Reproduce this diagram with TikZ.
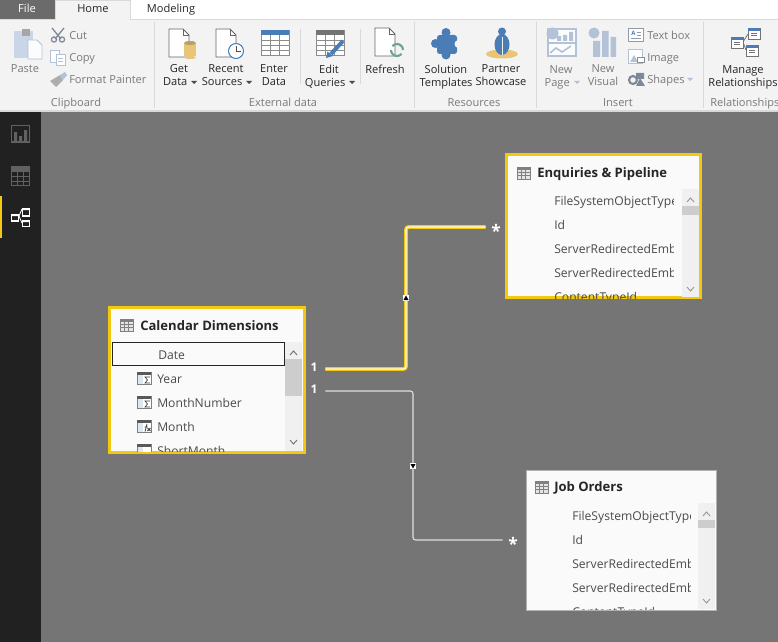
\documentclass[tikz,border=0pt]{standalone}
\usepackage{fontspec}
\setmainfont{Open Sans}
\usetikzlibrary{positioning}
\definecolor{pbiyellow}{HTML}{F2C811}
\definecolor{canvasgrey}{HTML}{757575}
\definecolor{sidedark}{HTML}{212121}
\definecolor{ribbongrey}{HTML}{F3F3F3}
\definecolor{ruleline}{HTML}{D9D9D9}
\definecolor{ribtext}{HTML}{262626}
\definecolor{offtext}{HTML}{7A7A7A}
\definecolor{rowtext}{HTML}{4A4A4A}
\definecolor{iconblue}{HTML}{4A7DB5}
\definecolor{icongrey}{HTML}{7F7F7F}
\definecolor{paleblue}{HTML}{B4C2D8}
\definecolor{paperblue}{HTML}{C9D6E8}
\definecolor{cylorange}{HTML}{EBC577}
\definecolor{refreshgreen}{HTML}{6FA58C}
\definecolor{trackgrey}{HTML}{F0F0F0}
\definecolor{thumbgrey}{HTML}{CDCDCD}
\tikzset{
  ribbtn/.style={font=\fontsize{8.3}{9.75}\selectfont, text=ribtext, align=center, inner sep=0pt},
  riboff/.style={ribbtn, text=offtext},
  ribgroup/.style={font=\fontsize{8.3}{9.75}\selectfont, text=offtext, inner sep=0pt, text height=7.2pt, text depth=1pt},
  ribleft/.style={riboff, anchor=west, text height=7.2pt, text depth=1pt},
  tabtext/.style={font=\fontsize{8.3}{10}\selectfont, text=ribtext, inner sep=0pt, text height=7.2pt, text depth=1pt},
  card/.style={draw=#1, fill=white!98!black, anchor=north west},
  cardtitle/.style={font=\bfseries\fontsize{9.8}{11}\selectfont, text=black!85, anchor=west, inner sep=0pt,
    text height=8pt, text depth=1pt},
  rowlabel/.style={font=\fontsize{9.1}{11}\selectfont, text=rowtext, anchor=west, inner sep=0pt,
    text height=7.4pt, text depth=1pt},
  cardlab/.style={font=\bfseries\fontsize{9}{10}\selectfont, text=white, inner sep=0pt, minimum height=9pt},
  relactive/.style={draw=pbiyellow, line width=1pt, double=white, double distance=.9pt, rounded corners=2pt},
  relplain/.style={draw=white!88!black, line width=.8pt, rounded corners=2pt},
  crossmark/.style={fill=white, inner sep=0pt, minimum size=5.2pt},
}
% small grey table mark
\newcommand{\tablemark}[3]{%
  \draw[#3, line width=.6pt, fill=white!90!black] (#1,#2) rectangle ++(13,12);
  \fill[#3] (#1,#2) rectangle ++(13,2.5);
  \draw[#3, line width=.4pt] (#1,#2+5.5) -- ++(13,0) (#1,#2+8.7) -- ++(13,0)
    (#1+4.3,#2) -- ++(0,12) (#1+8.7,#2) -- ++(0,12);
}
% column mark
\newcommand{\colmark}[2]{%
  \draw[icongrey, line width=.5pt, fill=paperblue!60] (#1,#2) rectangle ++(14,12);
  \fill[black!65] (#1,#2) rectangle ++(14,2.6);
  \fill[white] (#1+6,#2+3) rectangle ++(8,9);
}
% sigma and fx strokes for the column mark
\newcommand{\sigmamark}[2]{\draw[black!75, line width=.5pt] (#1+13,#2+5) -- (#1+8,#2+5) -- (#1+10.5,#2+8) -- (#1+8,#2+11) -- (#1+13,#2+11);}
\newcommand{\fxmark}[2]{\draw[black!75, line width=.6pt] (#1+10,#2+4) -- (#1+8,#2+11.5) (#1+7.5,#2+7) -- (#1+10.5,#2+7) (#1+10.5,#2+8) -- (#1+13.5,#2+11) (#1+13.5,#2+8) -- (#1+10.5,#2+11);}
% drop arrow
\newcommand{\dropmark}[3]{\fill[#3] (#1,#2) -- ++(6,0) -- ++(-3,3) -- cycle;}
% page with folded corner
\newcommand{\pagemark}[2]{%
  \draw[black!60, line width=.7pt, fill=white] (#1,#2) -- ++(14,0) -- ++(6,6) -- ++(0,22) -- ++(-20,0) -- cycle;
  \draw[black!60, line width=.7pt] (#1+14,#2) -- ++(0,6) -- ++(6,0);
}
% tiny relationship table
\newcommand{\reltab}[2]{%
  \draw[black!55, line width=.6pt, fill=white] (#1,#2) rectangle ++(12,11);
  \fill[iconblue] (#1,#2) rectangle ++(12,2.6);
  \draw[black!55, line width=.4pt] (#1+3,#2+5) -- ++(6,0) (#1+3,#2+7.5) -- ++(6,0);
}
\begin{document}
\begin{tikzpicture}[x=0.75pt, y=-0.75pt]
      \clip (0,0) rectangle (778,642);
      %
      \fill[canvasgrey] (0,0) rectangle (778,642);
      \fill[sidedark] (0,112) rectangle (41,642);              % side bar
      \fill[ribbongrey] (0,20) rectangle (778,110);            % ribbon
      \fill[ruleline] (0,110) rectangle (778,112);
      \fill[white] (0,0) rectangle (778,19);                   % tab row
      \fill[ruleline] (0,19) rectangle (778,20);
      \fill[black!58] (0,0) rectangle (55,19);                 % file tab
      \fill[ribbongrey] (55.5,0) rectangle (130,20);           % home tab
      \draw[ruleline, line width=.6pt] (55.5,19) -- (55.5,0) -- (130,0) -- (130,19);
      \node[tabtext, text=white] (filetab) at (27,8) {File};
      \node[tabtext] (hometab) at (93,8) {Home};
      \node[tabtext] (modeltab) at (171,8) {Modeling};
      %% clipboard group
      \fill[paperblue] (14,31) rectangle (33,58);
      \fill[black!35] (22,29) rectangle (30,36);
      \draw[paleblue, line width=.6pt, fill=white!92!paperblue] (28,40) -- (37,40) -- (42,45) -- (42,59) -- (28,59) -- cycle;
      \node[riboff] (paste) at (25,69) {Paste};
      \draw[paleblue!70!black, line width=1pt] (52,28) -- (61,39) (64,28) -- (55,39);
      \draw[paleblue!70!black, line width=.9pt] (54,39.5) circle (2.6) (62,39.5) circle (2.6);
      \draw[paleblue, line width=.7pt, fill=white] (50.5,50) rectangle (59,62);
      \draw[paleblue, line width=.7pt, fill=white] (56,54) rectangle (65,65);
      \draw[paleblue, line width=.7pt] (58,58) -- (63,58) (58,61) -- (63,61);
      \fill[black!32] (50,81) -- (60,75) -- (63,80) -- (56,87) -- cycle;
      \fill[paleblue] (60,75) -- (65,72) -- (67,75) -- (63,80) -- cycle;
      \node[ribleft] (cut) at (69,35) {Cut};
      \node[ribleft] (copy) at (69,57) {Copy};
      \node[ribleft] (painter) at (69,79) {Format Painter};
      \node[ribgroup] (clipboard) at (76,102) {Clipboard};
      \draw[ruleline, line width=.7pt] (154.5,22) -- (154.5,108);
      %% external data group
      \pagemark{169}{29}
      \fill[cylorange] (184,43) rectangle (196,56);
      \fill[cylorange] (190,57.5) ellipse (6 and 1.5);
      \fill[cylorange!80!black] (190,43) ellipse (6 and 2);
      \node[ribbtn] (getdata) at (179,75.5) {Get\\Data\phantom{\,x}};
      \dropmark{191}{81}{black!70}
      \pagemark{216}{29}
      \draw[iconblue, line width=.8pt, fill=white] (236,51) circle (7.5);
      \draw[black!70, line width=.6pt] (236,46) -- (236,51.5) -- (241,51.5);
      \node[ribbtn] (recent) at (226,75.5) {Recent\\Sources\phantom{\,x}};
      \dropmark{246}{81}{black!70}
      \draw[black!45, line width=.6pt, fill=white] (261,30) rectangle (289,55);
      \fill[iconblue] (261,30) rectangle (289,35);
      \draw[black!45, line width=.5pt] (261,40) -- (289,40) (261,45) -- (289,45) (261,50) -- (289,50)
        (270.3,35) -- (270.3,55) (279.6,35) -- (279.6,55);
      \node[ribbtn] (enter) at (274,75.5) {Enter\\Data};
      \draw[ruleline, line width=.7pt] (300.5,29) -- (300.5,84);
      \draw[black!45, line width=.6pt, fill=white] (316,30) rectangle (344,55);
      \fill[black!55] (316,30) rectangle (344,35);
      \draw[iconblue, line width=.6pt] (325,30.5) -- (325,35) (335,30.5) -- (335,35);
      \draw[black!45, line width=.5pt] (316,40) -- (344,40) (316,45) -- (344,45) (316,50) -- (344,50)
        (325.3,35) -- (325.3,55) (334.6,35) -- (334.6,55);
      \draw[iconblue, line width=3pt] (331,54) -- (343,41);
      \fill[iconblue] (326,58) -- (327.5,51.5) -- (333,56) -- cycle;
      \node[ribbtn] (queries) at (329,76.5) {Edit\\Queries\phantom{\,x}};
      \dropmark{349}{81}{black!70}
      \draw[ruleline, line width=.7pt] (360.5,29) -- (360.5,84);
      \pagemark{375}{28}
      \draw[refreshgreen, line width=1.6pt] (391,50) arc (180:40:6) (403,50) arc (0:-140:6);
      \node[ribbtn] (refresh) at (385,69) {Refresh};
      \node[ribgroup] (external) at (283,102) {External data};
      \draw[ruleline, line width=.7pt] (414.5,22) -- (414.5,108);
      %% resources group
      \fill[iconblue, rounded corners=2pt] (437,35) rectangle (457,54);
      \fill[iconblue] (446,32.5) circle (4.5) (446,55) circle (4.5) (435.5,43.5) circle (4.5);
      \fill[ribbongrey] (458.5,44) circle (4);
      \node[ribbtn] (solution) at (446,77) {Solution\\Templates};
      \fill[cylorange] (502,54) ellipse (16 and 4.5);
      \fill[iconblue] (502,44.5) ellipse (7.5 and 10.5);
      \fill[iconblue] (502,31.5) circle (4);
      \draw[ribbongrey, line width=.5pt] (502,37) -- (502,55);
      \node[ribbtn] (partner) at (501,75.5) {Partner\\Showcase};
      \node[ribgroup] (resources) at (474,102) {Resources};
      \draw[ruleline, line width=.7pt] (536.5,22) -- (536.5,108);
      %% insert group
      \draw[paleblue, line width=.8pt, fill=white!95!paleblue] (548,29) rectangle (576,56);
      \draw[paleblue, line width=.8pt] (548,43) -- (576,43);
      \fill[paleblue] (557,36) rectangle (561,41) (563,35) rectangle (567,41) (569,32) rectangle (573,41);
      \draw[paleblue, line width=1.2pt] (550,53) -- (556,48) -- (562,52) -- (571,46);
      \fill[paleblue] (552.5,33.5) circle (6);
      \node[riboff] (newpage) at (561,77) {New\\Page\phantom{\,x}};
      \dropmark{574}{81}{paleblue}
      \fill[paleblue] (593,41) rectangle (600,57) (602,31) rectangle (608.5,57) (610.5,37) rectangle (616,57);
      \fill[paleblue] (594,33) circle (5.5);
      \node[riboff] (newvisual) at (603,75.5) {New\\Visual};
      \draw[paleblue!80!black, line width=.7pt, fill=white] (628.5,28.5) rectangle (643,41);
      \draw[paleblue!80!black, line width=.6pt] (637,32) -- (641,32) (637,35) -- (641,35) (631,38) -- (641,38);
      \node[riboff, font=\bfseries\fontsize{4.5}{5}\selectfont, text=iconblue] (textboxa) at (633.5,33.5) {A};
      \draw[paleblue, line width=.7pt, fill=white] (628.5,49) rectangle (642,63);
      \fill[paleblue] (630,62) -- (634,55) -- (638,62) -- cycle;
      \draw[black!45, line width=.7pt, fill=white] (637,57) rectangle (644,62);
      \draw[paleblue!70!black, line width=1.6pt] (633,80) circle (4);
      \fill[paleblue!70!black] (636,73) rectangle (644,79) (636,86) -- (640,78) -- (645,86) -- cycle;
      \node[ribleft] (textbox) at (647,35) {Text box};
      \node[ribleft] (image) at (647,57) {Image};
      \node[ribleft] (shapes) at (647,79) {Shapes};
      \dropmark{687}{78}{paleblue}
      \node[ribgroup] (insert) at (618,102) {Insert};
      \draw[ruleline, line width=.7pt] (703.5,22) -- (703.5,108);
      %% relationships group
      \draw[black!55, line width=.6pt] (743,42) -- (748,34) (743,42) -- (746,50);
      \reltab{731}{37}
      \reltab{748}{28}
      \reltab{746}{45}
      \node[ribbtn] (manage) at (743,77) {Manage\\Relationships};
      \node[ribgroup, anchor=west] (relations) at (710,102) {Relationships};
      %% side bar
      \draw[black!62, line width=.8pt] (11.5,125.5) rectangle (29.5,142);
      \fill[black!62] (14,132) rectangle (17,141) (19,136) rectangle (22,141) (24,130) rectangle (27,141);
      \draw[black!62, line width=.8pt] (11.5,166.5) rectangle (29.5,185.5);
      \fill[black!62] (11.5,166.5) rectangle (29.5,171.5);
      \draw[black!62, line width=.7pt] (11.5,176) -- (29.5,176) (11.5,181) -- (29.5,181)
        (17.5,171) -- (17.5,185.5) (23.5,171) -- (23.5,185.5);
      \fill[pbiyellow] (0,196) rectangle (2,238);
      \draw[white, line width=.6pt] (19,216) -- (22,209) (19,216) -- (22,223);
      \draw[white, line width=.9pt, fill=sidedark] (11.5,215) rectangle (18.5,221);
      \draw[white, line width=.9pt, fill=sidedark] (22.5,209) rectangle (29.5,216);
      \draw[white, line width=.9pt, fill=sidedark] (22.5,220.5) rectangle (29.5,226.5);
      \fill[white] (11.5,214) rectangle (18.5,216) (22.5,208) rectangle (29.5,210) (22.5,220) rectangle (29.5,222);
      %% connector ends and direction marks
      \node[cardlab, minimum width=16.5pt] (calone) at (314,367) {1};
      \node[cardlab, minimum width=16.5pt] (caltwo) at (314,389) {1};
      \node[cardlab, minimum width=15pt, font=\bfseries\fontsize{13}{13}\selectfont] (enqstar) at (496,231) {*};
      \node[cardlab, minimum width=15pt, font=\bfseries\fontsize{13}{13}\selectfont] (jobstar) at (513,544) {*};
      \node[crossmark] (crossup) at (406,298) {};
      \node[crossmark] (crossdown) at (413,466) {};
      \coordinate (calend) at (calone.east |- 0,369);
      \coordinate (caltwoend) at (caltwo.east |- 0,391);
      \coordinate (enqend) at (enqstar.west |- 0,227);
      \coordinate (jobend) at (jobstar.west |- 0,540);
      \draw[relactive] (calend) -| (crossup.center) |- (enqend);
      \draw[relplain] (caltwoend) -| (crossdown.center) |- (jobend);
      \node[crossmark] (crossupface) at (crossup.center) {};
      \node[crossmark] (crossdownface) at (crossdown.center) {};
      \fill[black] (crossup.center) ++(-2.5,2) -- ++(5,0) -- ++(-2.5,-4.5) -- cycle;
      \fill[black] (crossdown.center) ++(-2.5,-2) -- ++(5,0) -- ++(-2.5,4.5) -- cycle;
      %% calendar card
      \node[card=pbiyellow, line width=2.25pt, minimum width=146.25pt, minimum height=108.75pt,
        inner sep=0pt, outer sep=0pt] (calendar) at (109.5,307.5) {};
      \tablemark{120}{319}{black!50}
      \node[cardtitle] (caltitle) at (140,326) {Calendar Dimensions};
      \fill[trackgrey] (285,342) rectangle (302,451);
      \fill[thumbgrey] (285,359) rectangle (302,396);
      \draw[black!55, line width=.7pt] (290,355) -- (293.5,351) -- (297,355) (290,440) -- (293.5,444) -- (297,440);
      \begin{scope}
        \clip (110,342) rectangle (285,451);
        \colmark{137}{372}\sigmamark{137}{372}
        \colmark{137}{396}\sigmamark{137}{396}
        \colmark{137}{420}\fxmark{137}{420}
        \colmark{137}{444}
        \node[rowlabel] (calyear) at (157,379) {Year};
        \node[rowlabel] (calnumber) at (157,403) {MonthNumber};
        \node[rowlabel] (calmonth) at (157,427) {Month};
        \node[rowlabel] (calshort) at (157,451) {ShortMonth};
      \end{scope}
      \draw[black!85, line width=.75pt] (112.5,342.5) rectangle (284.5,365);
      \node[rowlabel] (caldate) at (158,355) {Date};
      %% enquiries card
      \node[card=pbiyellow, line width=2.25pt, minimum width=145.5pt, minimum height=107.25pt,
        inner sep=0pt, outer sep=0pt] (enquiries) at (506.5,154.5) {};
      \tablemark{517}{167}{black!50}
      \node[cardtitle] (enqtitle) at (537,173) {Enquiries \& Pipeline};
      \fill[trackgrey] (682,189) rectangle (699,297);
      \fill[thumbgrey] (682,206) rectangle (699,215);
      \draw[black!40, line width=.7pt] (687,202) -- (690.5,198) -- (694,202) (687,287) -- (690.5,291) -- (694,287);
      \begin{scope}
        \clip (510,189) rectangle (673,298);
        \node[rowlabel] (enqtype) at (554,201) {FileSystemObjectType};
        \node[rowlabel] (enqid) at (554,225) {Id};
        \node[rowlabel] (enqserver) at (554,249) {ServerRedirectedEmbed};
        \node[rowlabel] (enqservertwo) at (554,273) {ServerRedirectedEmbed};
        \node[rowlabel] (enqcontent) at (554,297) {ContentTypeId};
      \end{scope}
      %% job orders card
      \node[card=black!30, line width=.6pt, minimum width=142.5pt, minimum height=105pt,
        inner sep=0pt, outer sep=0pt] (joborders) at (526,470) {};
      \tablemark{535}{481}{black!50}
      \node[cardtitle] (jobtitle) at (554,487) {Job Orders};
      \fill[trackgrey] (698,503) rectangle (715,609);
      \fill[thumbgrey] (698,520) rectangle (715,528);
      \draw[black!40, line width=.7pt] (703,516) -- (706.5,512) -- (710,516) (703,599) -- (706.5,603) -- (710,599);
      \begin{scope}
        \clip (530,503) rectangle (690,609.5);
        \node[rowlabel] (jobtype) at (572,516) {FileSystemObjectType};
        \node[rowlabel] (jobid) at (572,540) {Id};
        \node[rowlabel] (jobserver) at (572,564) {ServerRedirectedEmbed};
        \node[rowlabel] (jobservertwo) at (572,588) {ServerRedirectedEmbed};
        \node[rowlabel] (jobcontent) at (572,612) {ContentTypeId};
      \end{scope}
      %
    \end{tikzpicture}
\end{document}
